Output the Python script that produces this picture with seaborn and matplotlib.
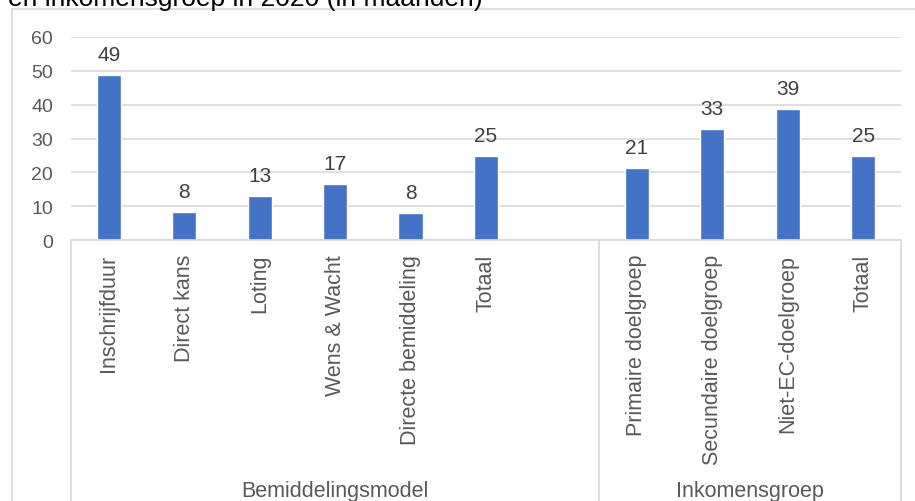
import matplotlib
matplotlib.use("Agg")
import matplotlib.pyplot as plt
import matplotlib.transforms as mtransforms
from matplotlib.lines import Line2D
import seaborn as sns
import pandas as pd

# ---- data ----
keys = ["Inschrijfduur", "Direct kans", "Loting", "Wens & Wacht", "Directe bemiddeling",
        "Totaal_model", "_gap_", "Primaire doelgroep", "Secundaire doelgroep",
        "Niet-EC-doelgroep", "Totaal_inkomen"]
tick_labels = ["Inschrijfduur", "Direct kans", "Loting", "Wens & Wacht", "Directe bemiddeling",
               "Totaal", "", "Primaire doelgroep", "Secundaire doelgroep",
               "Niet-EC-doelgroep", "Totaal"]
value_keys = ["Inschrijfduur", "Direct kans", "Loting", "Wens & Wacht", "Directe bemiddeling",
              "Totaal_model", "Primaire doelgroep", "Secundaire doelgroep",
              "Niet-EC-doelgroep", "Totaal_inkomen"]
values = [48.8, 8.3, 13.1, 16.6, 8.0, 24.8, 21.2, 32.7, 38.7, 24.8]
groups = ["Bemiddelingsmodel", "Inkomensgroep"]
group_spans = [(-0.5, 6.5), (6.5, 10.5)]
title_text = "en inkomensgroep in 2020 (in maanden)"
yticks = [0, 10, 20, 30, 40, 50, 60]

df = pd.DataFrame({"cat": value_keys, "val": values})

sns.set_style("white")
plt.rcParams["font.family"] = ["Liberation Sans", "DejaVu Sans"]

W, H = 915, 502
fig = plt.figure(figsize=(W / 100, H / 100), dpi=100)
ax_left, ax_right, ax_top, ax_bottom = 71, 901, 38, 241
ax = fig.add_axes([ax_left / W, 1 - ax_bottom / H, (ax_right - ax_left) / W, (ax_bottom - ax_top) / H])

sns.barplot(data=df, x="cat", y="val", order=keys, color="#4472C4", width=0.32,
            saturation=1, ax=ax, errorbar=None)

ax.set_ylim(0, 60)
ax.set_xlim(-0.5, len(keys) - 0.5)
ax.set_yticks(yticks)
ax.set_yticklabels([str(t) for t in yticks])
ax.set_xticks(range(len(keys)))
ax.set_xticklabels(tick_labels, rotation=90, va="top", ha="center")
ax.set_xlabel("")
ax.set_ylabel("")

grid_c = "#d9d9d9"
ax.grid(axis="y", color=grid_c, linewidth=1.2)
ax.set_axisbelow(True)
for s in ["left", "right", "top"]:
    ax.spines[s].set_visible(False)
ax.spines["bottom"].set_color(grid_c)
ax.spines["bottom"].set_linewidth(1.2)
ax.tick_params(axis="y", length=0, pad=13, labelsize=14, labelcolor="#595959")
ax.tick_params(axis="x", length=0, pad=10, labelsize=15.5, labelcolor="#595959")

for cont in ax.containers:
    ax.bar_label(cont, fmt="%.0f", padding=8, fontsize=15, color="#404040")

# category dividers and group labels
trans = mtransforms.blended_transform_factory(ax.transData, ax.transAxes)
ax_h = ax_bottom - ax_top
bottom_ax = -(H - ax_bottom) / ax_h
for x in [-0.5, 6.5, 10.5]:
    ax.add_line(Line2D([x, x], [0, bottom_ax], transform=trans, color=grid_c,
                       linewidth=1.2, clip_on=False))
for g, (a, b) in zip(groups, group_spans):
    ax.text((a + b) / 2, -(491 - ax_bottom) / ax_h, g, transform=trans, ha="center",
            va="center", fontsize=15.5, color="#595959")

# outer chart border (partially visible)
fig.add_artist(Line2D([12 / W, 1], [1 - 10 / H, 1 - 10 / H], transform=fig.transFigure,
                      color=grid_c, linewidth=1.2))
fig.add_artist(Line2D([12 / W, 12 / W], [1 - 10 / H, 0], transform=fig.transFigure,
                      color=grid_c, linewidth=1.2))

# clipped title (cut off at the top edge, as in the reference)
fig.text(8 / W, 1 - 6 / H, title_text, ha="left", va="baseline", fontsize=19, color="#000000")

fig.savefig("out.png", dpi=100)
